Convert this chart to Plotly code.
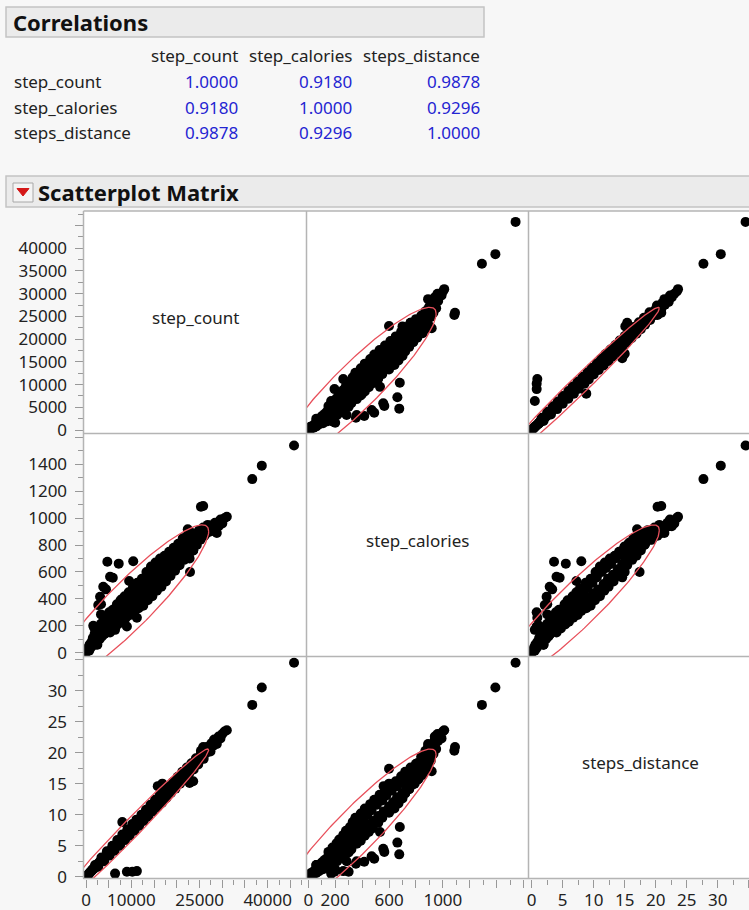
import numpy as np
import plotly.graph_objects as go

W, H = 749, 910

variables = ["step_count", "step_calories", "steps_distance"]
corr_values = [
    [1.0000, 0.9180, 0.9878],
    [0.9180, 1.0000, 0.9296],
    [0.9878, 0.9296, 1.0000],
]

step_count = [
    100, 300, 500, 700, 800, 1000, 1200, 1400, 1500, 1700,
    1900, 2100, 2300, 2500, 2600, 2800, 3000, 3100, 3300, 3500,
    3700, 3900, 4100, 4300, 4500, 4700, 4900, 5100, 5300, 5500,
    5700, 5900, 6200, 6400, 6600, 6800, 7000, 7200, 7400, 7600,
    7900, 8100, 8300, 8500, 8800, 9000, 9200, 9400, 9700, 9900,
    10100, 10300, 10600, 10800, 11000, 11300, 11600, 11800, 12000, 12300,
    12600, 12800, 13000, 13300, 13600, 13800, 14000, 14300, 14600, 14800,
    15000, 15300, 15600, 15800, 16000, 16300, 16600, 16800, 17000, 17300,
    17600, 17800, 18000, 18300, 18600, 18800, 19000, 19300, 19600, 19800,
    20000, 20300, 20600, 20800, 21000, 21300, 21600, 21800, 22000, 22300,
    22600, 22800, 23000, 23300, 23600, 23800, 24000, 24400, 24600, 24900,
    25200, 25500, 25800, 26100, 26400, 26800, 27200, 27600, 28000, 28400,
    28800, 29200, 29600, 30000, 30500, 31000,
    2000, 2700, 3400, 4000, 4600, 5200, 5800, 6300, 6900, 7500,
    8000, 8600, 9100, 9600, 10200, 10700, 11100, 11700, 12200, 12700,
    13200, 13700, 14200, 14700, 15200, 15700, 16200, 16700, 17200, 17700,
    18200, 18700, 19200, 19700, 20200, 20700, 21200, 21700, 22200, 22700,
    23200, 23700, 24200, 24700, 25300, 25900, 26600, 27400, 28200,
    45800, 38700, 36600,
    10400, 7200, 4700, 5300, 5900, 9500, 4400, 3800, 3100, 2700, 3300, 3300, 1800, 1600,
    6400, 9000, 10200, 11200,
    8000, 15800, 16800, 22800, 23600,
    22900, 22400, 25800, 25300,
]
step_calories = [
    5, 20, 40, 15, 60, 35, 80, 55, 110, 75,
    140, 95, 165, 60, 125, 190, 100, 150, 215, 120,
    180, 250, 140, 210, 270, 165, 235, 300, 150, 200,
    265, 320, 180, 240, 300, 360, 210, 270, 330, 390,
    230, 300, 360, 420, 260, 330, 390, 450, 280, 350,
    420, 480, 310, 380, 450, 520, 330, 410, 480, 550,
    350, 440, 520, 600, 390, 470, 560, 640, 420, 510,
    600, 670, 460, 550, 630, 700, 490, 580, 660, 720,
    530, 620, 700, 750, 570, 660, 730, 780, 610, 700,
    770, 810, 650, 740, 800, 850, 690, 770, 830, 870,
    720, 800, 860, 890, 760, 830, 880, 800, 860, 910,
    840, 890, 930, 870, 920, 950, 900, 945, 910, 965,
    890, 940, 990, 960, 1000, 1010,
    60, 150, 190, 180, 220, 260, 230, 280, 320, 260,
    340, 300, 420, 400, 360, 440, 380, 480, 420, 500,
    460, 540, 480, 600, 520, 620, 560, 650, 600, 690,
    640, 720, 670, 750, 700, 790, 740, 820, 780, 850,
    810, 870, 840, 890, 870, 900, 890, 920, 940,
    1540, 1390, 1290,
    680, 662, 676, 565, 557, 533, 471, 490, 416, 354, 360, 285, 186, 200,
    170, 195, 300, 260,
    400, 560, 600, 700, 760,
    600, 917, 1090, 1085,
]
steps_distance = [
    0.1, 0.2, 0.4, 0.5, 0.6, 0.8, 0.9, 1.1, 1.2, 1.3,
    1.4, 1.6, 1.8, 1.9, 2.0, 2.2, 2.3, 2.4, 2.5, 2.7,
    2.8, 3.1, 3.0, 3.3, 3.4, 3.6, 3.8, 3.9, 4.0, 4.3,
    4.4, 4.4, 4.7, 5.0, 5.0, 5.3, 5.4, 5.4, 5.7, 5.8,
    6.0, 6.3, 6.2, 6.6, 6.7, 7.1, 6.9, 7.2, 7.4, 7.4,
    7.9, 7.8, 8.0, 8.4, 8.3, 8.7, 8.8, 9.2, 9.0, 9.5,
    9.5, 10.0, 9.8, 10.3, 10.2, 10.7, 10.5, 11.0, 11.0, 11.6,
    11.3, 11.8, 11.7, 12.3, 12.0, 12.6, 12.4, 13.1, 12.8, 13.4,
    13.2, 13.9, 13.5, 14.1, 13.9, 14.6, 14.3, 14.9, 14.7, 15.4,
    15.0, 15.6, 15.4, 16.1, 15.8, 16.4, 16.2, 16.9, 16.5, 17.2,
    16.9, 17.6, 17.3, 17.9, 17.6, 18.4, 18.0, 18.2, 18.9, 18.7,
    19.4, 19.1, 19.8, 20.3, 19.9, 20.6, 20.9, 21.5, 21.1, 21.9,
    21.4, 22.6, 22.3, 23.0, 23.4, 23.6,
    1.9, 1.6, 3.1, 2.5, 4.1, 3.4, 5.0, 4.2, 5.9, 5.0,
    6.8, 5.9, 7.6, 6.6, 8.5, 7.4, 9.2, 8.2, 10.0, 9.0,
    10.8, 9.7, 11.6, 10.5, 12.4, 11.2, 13.1, 11.9, 13.9, 12.7,
    14.6, 13.5, 15.3, 14.2, 16.1, 15.0, 16.9, 15.8, 17.6, 16.6,
    18.3, 17.3, 19.1, 18.1, 19.9, 19.0, 20.9, 20.2, 22.1,
    34.5, 30.5, 27.7,
    8.0, 5.5, 3.6, 4.0, 4.5, 7.2, 3.3, 2.9, 2.4, 2.1, 2.5, 2.5, 1.4, 1.2,
    0.5, 0.8, 0.8, 0.9,
    8.8, 14.6, 15.0, 15.1, 15.4,
    17.4, 17.0, 20.9, 20.3,
]

# moments behind the 95% density ellipses (estimated from the drawn ellipses)
var_means = [9700, 360, 7.54]
var_sds = [7070, 241, 5.33]

# ticks
count_ticks = [0, 5000, 10000, 15000, 20000, 25000, 30000, 35000, 40000, 45000]
count_ylabels = ["0", "5000", "10000", "15000", "20000", "25000", "30000", "35000", "40000", ""]
count_xlabels = ["0", "", "10000", "", "", "25000", "", "", "40000", ""]
cal_ticks = [0, 200, 400, 600, 800, 1000, 1200, 1400, 1600]
cal_ylabels = ["0", "200", "400", "600", "800", "1000", "1200", "1400", ""]
cal_xlabels = ["0", "200", "", "600", "", "1000", "", "", ""]
dist_ticks = [0, 5, 10, 15, 20, 25, 30, 35]
dist_labels = ["0", "5", "10", "15", "20", "25", "30", ""]

data = [step_count, step_calories, steps_distance]
ticks = [count_ticks, cal_ticks, dist_ticks]
xlabels = [count_xlabels, cal_xlabels, dist_labels]
ylabels = [count_ylabels, cal_ylabels, dist_labels]
minor_step = [2500, 100, 2.5]

# layout in pixels
col_px = [83.5, 306.5, 528.5, 749]
row_px = [211, 433.5, 656.5, 878.5]
x_ranges = [[-550, 48540], [-13, 1636], [-0.52, 35.05]]
y_ranges = [[-770, 48200], [-28, 1629], [-0.29, 35.5]]

FONT = "Noto Sans"
TEXT = "#222222"
BLUE = "#2424d2"
RED = "#e8505b"
GRID = "#b4b4b4"


def px(x):
    return x / W


def py(y):
    return 1 - y / H


def density_ellipse(i, j, n=240):
    # 95% normal contour, x = variable i, y = variable j
    k = np.sqrt(5.991)
    r = corr_values[i][j]
    t = np.linspace(0, 2 * np.pi, n)
    ex = var_means[i] + k * var_sds[i] * np.cos(t)
    ey = var_means[j] + k * var_sds[j] * (r * np.cos(t) + np.sqrt(1 - r * r) * np.sin(t))
    return ex, ey


fig = go.Figure()
layout = {}
annotations = []

for r in range(3):
    for c in range(3):
        n = r * 3 + c + 1
        sx = "" if n == 1 else str(n)
        xa = dict(domain=[px(col_px[c]), px(col_px[c + 1])], range=x_ranges[c],
                  anchor="y" + sx, showgrid=False, zeroline=False, showline=False,
                  fixedrange=True, automargin=False)
        ya = dict(domain=[py(row_px[r + 1]), py(row_px[r])], range=y_ranges[r],
                  anchor="x" + sx, showgrid=False, zeroline=False, showline=False,
                  fixedrange=True, automargin=False)
        if r == 2:
            xa.update(tickmode="array", tickvals=ticks[c], ticktext=xlabels[c],
                      ticks="outside", ticklen=8, tickcolor="#999999",
                      tickfont=dict(family=FONT, size=17, color=TEXT),
                      ticklabelstandoff=-2,
                      minor=dict(ticks="outside", ticklen=5, tickcolor="#999999",
                                 tick0=0, dtick=minor_step[c]))
        else:
            xa.update(showticklabels=False, ticks="")
        if c == 0:
            ya.update(tickmode="array", tickvals=ticks[r], ticktext=ylabels[r],
                      ticks="outside", ticklen=8, tickcolor="#999999",
                      tickfont=dict(family=FONT, size=17, color=TEXT),
                      ticklabelstandoff=4,
                      minor=dict(ticks="outside", ticklen=5, tickcolor="#999999",
                                 tick0=0, dtick=minor_step[r]))
        else:
            ya.update(showticklabels=False, ticks="")
        layout["xaxis" + sx] = xa
        layout["yaxis" + sx] = ya

        if r == c:
            # empty trace so the diagonal cell (and its axes) still gets drawn
            fig.add_trace(go.Scatter(x=[], y=[], xaxis="x" + sx, yaxis="y" + sx,
                                     mode="markers", hoverinfo="skip"))
            annotations.append(dict(
                text=variables[r], xref="paper", yref="paper",
                x=px((col_px[c] + col_px[c + 1]) / 2) if c < 2 else px(640),
                y=py((row_px[r] + row_px[r + 1]) / 2 - 5),
                xanchor="center", yanchor="middle",
                showarrow=False, font=dict(family=FONT, size=17, color=TEXT)))
            continue

        fig.add_trace(go.Scatter(
            x=data[c], y=data[r], mode="markers", xaxis="x" + sx, yaxis="y" + sx,
            marker=dict(color="black", size=10, line=dict(width=0)),
            hoverinfo="skip"))
        ex, ey = density_ellipse(c, r)
        fig.add_trace(go.Scatter(
            x=ex, y=ey, mode="lines", xaxis="x" + sx, yaxis="y" + sx,
            line=dict(color=RED, width=1.3), hoverinfo="skip"))

# panel borders
shapes = []
for yy in row_px:
    shapes.append(dict(type="line", xref="paper", yref="paper",
                       x0=px(col_px[0]), x1=1.02, y0=py(yy), y1=py(yy),
                       line=dict(color=GRID, width=1.5)))
for xx in col_px[:3]:
    shapes.append(dict(type="line", xref="paper", yref="paper",
                       x0=px(xx), x1=px(xx), y0=py(row_px[0]), y1=py(row_px[3]),
                       line=dict(color=GRID, width=1.5)))

# outline headers
shapes.append(dict(type="rect", xref="paper", yref="paper",
                   x0=px(6), x1=px(484), y0=py(37), y1=py(7),
                   fillcolor="#ebebeb", line=dict(color="#c4c4c4", width=1.5), layer="below"))
shapes.append(dict(type="rect", xref="paper", yref="paper",
                   x0=px(6), x1=1.02, y0=py(207), y1=py(176),
                   fillcolor="#ebebeb", line=dict(color="#c4c4c4", width=1.5), layer="below"))
# disclosure button with red triangle
shapes.append(dict(type="rect", xref="paper", yref="paper",
                   x0=px(13), x1=px(33), y0=py(202), y1=py(183),
                   fillcolor="#f4f4f4", line=dict(color="#a8a8a8", width=1)))
shapes.append(dict(type="path", xref="paper", yref="paper",
                   path=f"M {px(17)} {py(188.5)} L {px(29)} {py(188.5)} L {px(23)} {py(196)} Z",
                   fillcolor="#d41818", line=dict(color="#d41818", width=1)))

annotations.append(dict(text="<b>Correlations</b>", xref="paper", yref="paper",
                        x=px(11), y=py(22), xanchor="left", yanchor="middle", showarrow=False,
                        font=dict(family=FONT, size=22, color="#111111")))
annotations.append(dict(text="<b>Scatterplot Matrix</b>", xref="paper", yref="paper",
                        x=px(36), y=py(192), xanchor="left", yanchor="middle", showarrow=False,
                        font=dict(family=FONT, size=22, color="#111111")))

# correlation table
col_right = [240, 354, 482.5]
row_y = [81, 107.3, 132.7]
for j, name in enumerate(variables):
    annotations.append(dict(text=name, xref="paper", yref="paper",
                            x=px(col_right[j]), y=py(55), xanchor="right", yanchor="middle",
                            showarrow=False, font=dict(family=FONT, size=17, color=TEXT)))
for i, name in enumerate(variables):
    annotations.append(dict(text=name, xref="paper", yref="paper",
                            x=px(12), y=py(row_y[i]), xanchor="left", yanchor="middle",
                            showarrow=False, font=dict(family=FONT, size=17, color=TEXT)))
    for j in range(3):
        annotations.append(dict(text=f"{corr_values[i][j]:.4f}", xref="paper", yref="paper",
                                x=px(col_right[j]), y=py(row_y[i]), xanchor="right",
                                yanchor="middle", showarrow=False,
                                font=dict(family=FONT, size=17, color=BLUE)))

fig.update_layout(
    width=W, height=H, autosize=False,
    margin=dict(l=0, r=0, t=0, b=0, pad=0, autoexpand=False),
    paper_bgcolor="#f7f7f7", plot_bgcolor="white",
    showlegend=False, shapes=shapes, annotations=annotations,
    font=dict(family=FONT, color=TEXT),
    **layout,
)

fig.write_html("out.html", config={"displayModeBar": False},
               post_script="document.body.style.margin='0';document.body.style.overflow='hidden';")
